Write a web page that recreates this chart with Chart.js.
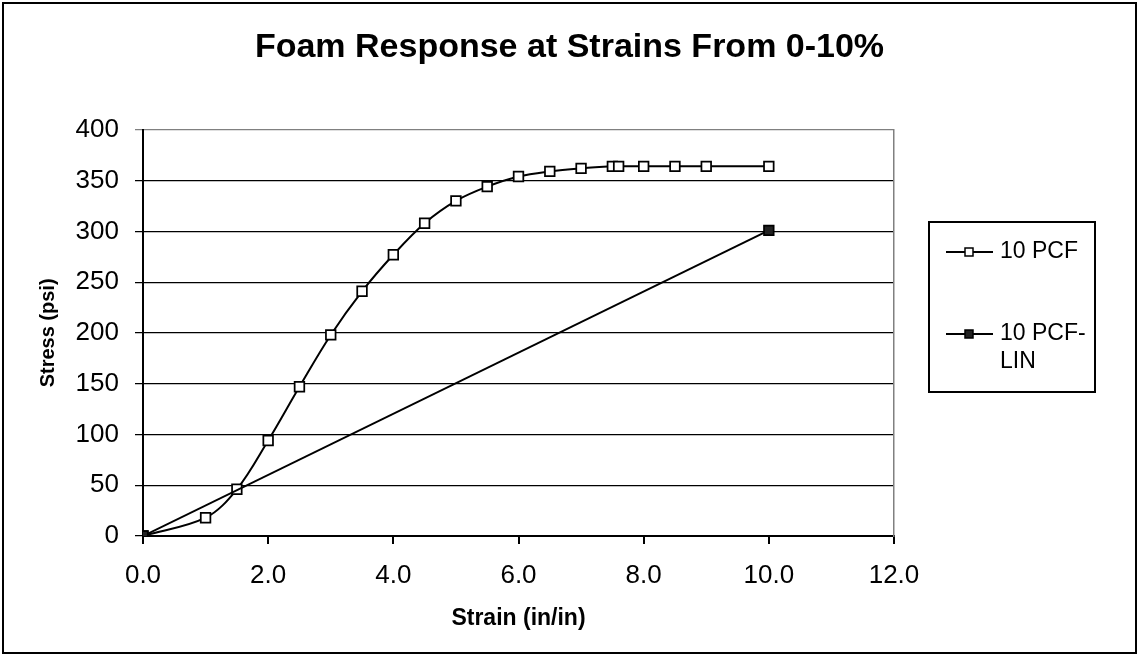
<!DOCTYPE html>
<html>
<head>
<meta charset="utf-8">
<script src="https://cdn.jsdelivr.net/npm/chart.js@4"></script>
<style>
  html, body { margin: 0; padding: 0; background: #fff; }
  #wrap { width: 1139px; height: 656px; position: relative; }
</style>
</head>
<body>
<div id="wrap"><canvas id="foamChart" width="1139" height="656"></canvas></div>
<script>
// stress-strain readings
const strain10pcf = [0, 1.0, 1.5, 2.0, 2.5, 3.0, 3.5, 4.0, 4.5, 5.0, 5.5, 6.0, 6.5, 7.0, 7.5, 7.6, 8.0, 8.5, 9.0, 10.0];
const stress10pcf = [0, 18, 46, 94, 147, 198, 241, 277, 308, 330, 344, 354, 359, 362, 364, 364, 364, 364, 364, 364];
const strainLin = [0, 10.0];
const stressLin = [0, 301];

const seriesNames = ["10 PCF", "10 PCF-LIN"];
const legendLines = [["10 PCF"], ["10 PCF-", "LIN"]];
const xTicks = { min: 0, max: 12, step: 2 };
const yTicks = { min: 0, max: 400, step: 50 };

const FONT = "'Liberation Sans', Arial, sans-serif";

function toPoints(xs, ys) {
  return xs.map((x, i) => ({ x: x, y: ys[i] }));
}

// white background + outer frame + legend box
const framePlugin = {
  id: "frame",
  beforeDraw(chart) {
    const ctx = chart.ctx;
    ctx.save();
    ctx.fillStyle = "#fff";
    ctx.fillRect(0, 0, chart.width, chart.height);
    ctx.strokeStyle = "#000";
    ctx.lineWidth = 2;
    ctx.strokeRect(3, 3, chart.width - 6, chart.height - 6);
    ctx.restore();
  },
  afterDraw(chart) {
    const ctx = chart.ctx;
    const box = { x: 929, y: 222, w: 166, h: 170 };
    ctx.save();
    ctx.strokeStyle = "#000";
    ctx.lineWidth = 2;
    ctx.strokeRect(box.x, box.y, box.w, box.h);
    const rows = [252, 334];
    chart.data.datasets.forEach((ds, i) => {
      const y = rows[i];
      ctx.strokeStyle = "#000";
      ctx.lineWidth = 2;
      ctx.beginPath();
      ctx.moveTo(946, y);
      ctx.lineTo(993, y);
      ctx.stroke();
      ctx.fillStyle = ds.pointBackgroundColor;
      ctx.lineWidth = 1.5;
      ctx.fillRect(965, y - 4, 8, 8);
      ctx.strokeRect(965, y - 4, 8, 8);
      ctx.fillStyle = "#000";
      ctx.font = "23px " + FONT;
      ctx.textBaseline = "middle";
      ctx.textAlign = "left";
      legendLines[i].forEach((t, k) => ctx.fillText(t, 1000, y + k * 28));
    });
    ctx.restore();
  }
};

const ctx = document.getElementById("foamChart").getContext("2d");
const chart = new Chart(ctx, {
  type: "line",
  data: {
    datasets: [
      {
        label: seriesNames[0],
        data: toPoints(strain10pcf, stress10pcf),
        borderColor: "#000",
        borderWidth: 2,
        tension: 0.35,
        pointStyle: "rect",
        pointRadius: 6.8,
        pointBorderWidth: 1.75,
        pointBorderColor: "#000",
        pointBackgroundColor: "#fff",
        order: 1
      },
      {
        label: seriesNames[1],
        data: toPoints(strainLin, stressLin),
        borderColor: "#000",
        borderWidth: 2,
        tension: 0,
        pointStyle: "rect",
        pointRadius: 6.8,
        pointBorderWidth: 1.75,
        pointBorderColor: "#000",
        pointBackgroundColor: "#222",
        order: 0
      }
    ]
  },
  options: {
    responsive: false,
    animation: false,
    layout: { padding: 0 },
    plugins: {
      legend: { display: false },
      tooltip: { enabled: false },
      title: {
        display: true,
        text: "Foam Response at Strains From 0-10%",
        color: "#000",
        font: { family: FONT, size: 34, weight: "bold" },
        padding: { top: 27, bottom: 62 }
      }
    },
    scales: {
      x: {
        type: "linear",
        min: xTicks.min,
        max: xTicks.max,
        afterFit: (s) => { s.height = 120; },
        border: { color: "#000", width: 2 },
        grid: { drawOnChartArea: false, color: "#000", lineWidth: 2, tickLength: 8 },
        ticks: {
          stepSize: xTicks.step,
          color: "#000",
          padding: 16,
          font: { family: FONT, size: 26 },
          callback: (v) => v.toFixed(1)
        },
        title: {
          display: true,
          text: "Strain (in/in)",
          color: "#000",
          font: { family: FONT, size: 23, weight: "bold" },
          padding: { top: 0, bottom: 24 }
        }
      },
      y: {
        type: "linear",
        min: yTicks.min,
        max: yTicks.max,
        afterFit: (s) => { s.width = 143; },
        border: { color: "#000", width: 2 },
        grid: {
          color: (c) => (c.tick && c.tick.value === yTicks.max ? "#808080" : "#000"),
          lineWidth: 1.25,
          tickLength: 8
        },
        ticks: {
          stepSize: yTicks.step,
          color: "#000",
          padding: 16,
          font: { family: FONT, size: 26 }
        },
        title: {
          display: true,
          text: "Stress (psi)",
          color: "#000",
          font: { family: FONT, size: 20, weight: "bold" },
          padding: { top: 36, bottom: 0 }
        }
      },
      // empty right axis: keeps room for the legend and draws the plot-area edge
      yRight: {
        type: "linear",
        position: "right",
        min: yTicks.min,
        max: yTicks.max,
        afterFit: (s) => { s.width = 245; },
        border: { color: "#808080", width: 1.5 },
        grid: { display: false },
        ticks: { display: false }
      }
    }
  },
  plugins: [framePlugin]
});
</script>
</body>
</html>
